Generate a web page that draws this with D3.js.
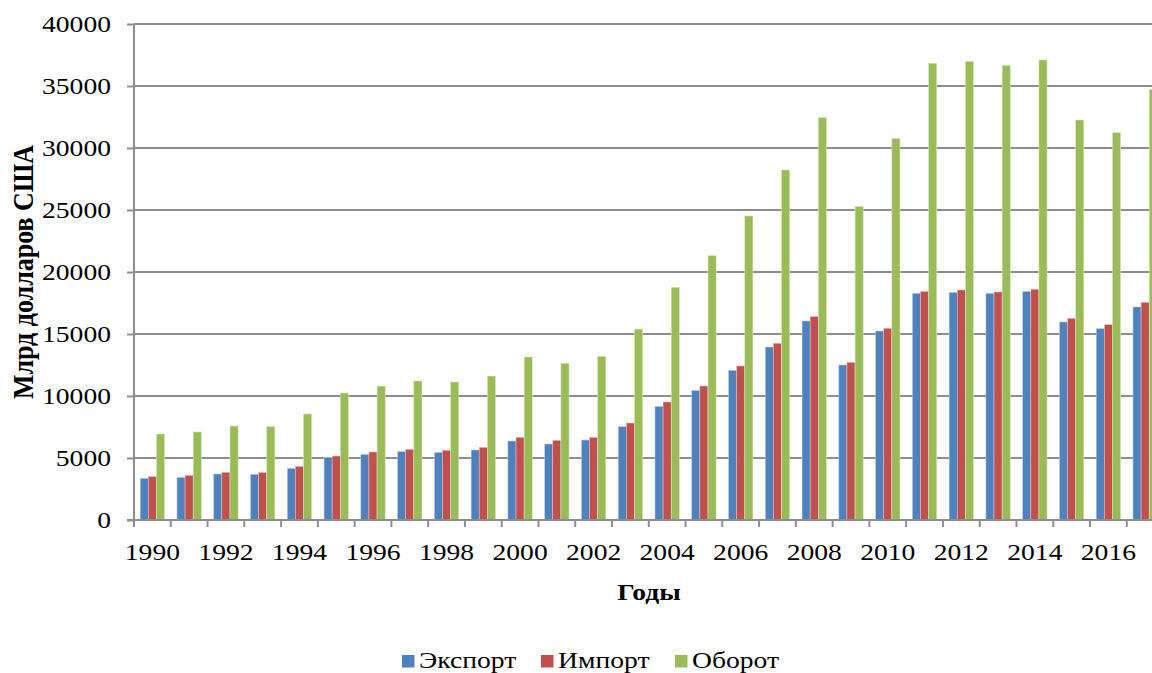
<!DOCTYPE html>
<html>
<head>
<meta charset="utf-8">
<script src="https://cdn.jsdelivr.net/npm/d3@7"></script>
<style>
  html, body { margin: 0; padding: 0; background: #fff; }
  svg { display: block; font-family: "Liberation Serif", "Times New Roman", serif; }
</style>
</head>
<body>
<svg id="chart" width="1152" height="673"></svg>
<script>
(function(){
const years = d3.range(1990, 2018).map(String);
const exportVals = [3360, 3440, 3710, 3680, 4165, 5025, 5295, 5510, 5455, 5645,
  6370, 6130, 6450, 7525, 9165, 10455, 12070, 13950, 16050, 12500,
  15240, 18280, 18360, 18280, 18440, 15970, 15430, 17180];
const importVals = [3495, 3600, 3845, 3830, 4325, 5160, 5485, 5700, 5620, 5860,
  6665, 6425, 6665, 7820, 9515, 10805, 12420, 14250, 16400, 12715,
  15460, 18440, 18550, 18390, 18605, 16265, 15750, 17555];
const turnoverVals = [6935, 7100, 7580, 7555, 8550, 10240, 10800, 11210, 11130, 11610,
  13145, 12635, 13200, 15400, 18765, 21315, 24516, 28225, 32445, 25295,
  30780, 36830, 36990, 36665, 37100, 32260, 31235, 34730];
const seriesNames = ['Экспорт', 'Импорт', 'Оборот'];
const seriesColors = ['#4F81BD', '#C0504D', '#9BBB59'];
const seriesEdges = ['#b9cde5', '#e6b9b8', '#d7e4bd'];
const yTicks = [0, 5000, 10000, 15000, 20000, 25000, 30000, 35000, 40000];

const svg = d3.select('#chart');
const left = 134, plotTop = 24, plotBottom = 520;
const band = 36.77;
const sx = 1.15; // text in the source is a bit wider than plain Times

const x0 = d3.scaleBand().domain(years).range([left, left + band * years.length]).padding(0);
const x1 = d3.scaleBand().domain(seriesNames).range([6.2, band - 6.2]).padding(0);
const y = d3.scaleLinear().domain([0, 40000]).range([plotBottom, plotTop]);

// wide text helper
function wideText(g, x, yy, str, size, anchor, bold) {
  return g.append('text')
    .attr('transform', `translate(${x},${yy}) scale(${sx},1)`)
    .attr('text-anchor', anchor)
    .attr('font-size', size)
    .attr('font-weight', bold ? 'bold' : 'normal')
    .text(str);
}

// gridlines
svg.append('g')
  .selectAll('line')
  .data(yTicks.filter(d => d > 0))
  .join('line')
  .attr('x1', left).attr('x2', 1152)
  .attr('y1', d => y(d)).attr('y2', d => y(d))
  .attr('stroke', '#8e8e8e').attr('stroke-width', 2);

// bars
const rows = years.map((yr, i) => ({ year: yr, vals: [exportVals[i], importVals[i], turnoverVals[i]] }));
svg.append('g')
  .selectAll('g')
  .data(rows)
  .join('g')
  .attr('transform', d => `translate(${x0(d.year)},0)`)
  .selectAll('rect')
  .data(d => d.vals.map((v, k) => ({ key: seriesNames[k], v, k })))
  .join('rect')
  .attr('x', d => x1(d.key))
  .attr('y', d => y(d.v))
  .attr('width', x1.bandwidth())
  .attr('height', d => y(0) - y(d.v))
  .attr('fill', d => seriesColors[d.k])
  .attr('stroke', d => seriesEdges[d.k])
  .attr('stroke-width', 0.6);

// y axis
const yAxis = svg.append('g')
  .attr('transform', `translate(${left},0)`)
  .call(d3.axisLeft(y).tickValues(yTicks).tickSize(7).tickPadding(16).tickFormat(d3.format('d')));
yAxis.select('.domain').attr('stroke', '#8e8e8e').attr('stroke-width', 2).attr('d', `M0,${plotTop}V${plotBottom}`);
yAxis.selectAll('.tick line').attr('stroke', '#8e8e8e').attr('stroke-width', 2);
yAxis.selectAll('.tick text')
  .attr('font-size', 24).attr('fill', '#000')
  .attr('font-family', '"Liberation Serif", serif')
  .attr('x', -23 / sx)
  .attr('transform', `scale(${sx},1)`);

// x axis
const xAxisG = svg.append('g').attr('transform', `translate(0,${plotBottom})`);
xAxisG.append('line')
  .attr('x1', left - 7).attr('x2', 1152).attr('y1', 0).attr('y2', 0)
  .attr('stroke', '#8e8e8e').attr('stroke-width', 2);
xAxisG.selectAll('line.tk')
  .data(years.concat(['end']))
  .join('line')
  .attr('class', 'tk')
  .attr('x1', (d, i) => left + i * x0.bandwidth())
  .attr('x2', (d, i) => left + i * x0.bandwidth())
  .attr('y1', 0).attr('y2', 7)
  .attr('stroke', '#8e8e8e').attr('stroke-width', 2);
years.filter((d, i) => i % 2 === 0).forEach(d => {
  wideText(xAxisG, x0(d) + x0.bandwidth() / 2, 40, d, 24, 'middle', false);
});

// axis titles
wideText(svg, 649, 600, 'Годы', 24, 'middle', true);
svg.append('text')
  .attr('transform', `translate(33,${(plotTop + plotBottom) / 2}) scale(${sx},1) rotate(-90)`)
  .attr('text-anchor', 'middle')
  .attr('font-size', 26).attr('font-weight', 'bold')
  .text('Млрд долларов США');

// legend
const legendX = [402, 541, 675];
const legend = svg.append('g');
seriesNames.forEach((name, k) => {
  legend.append('rect')
    .attr('x', legendX[k]).attr('y', 655)
    .attr('width', 12.5).attr('height', 12.5)
    .attr('fill', seriesColors[k]);
  wideText(legend, legendX[k] + 17, 668, name, 24, 'start', false);
});
})();
</script>
</body>
</html>
